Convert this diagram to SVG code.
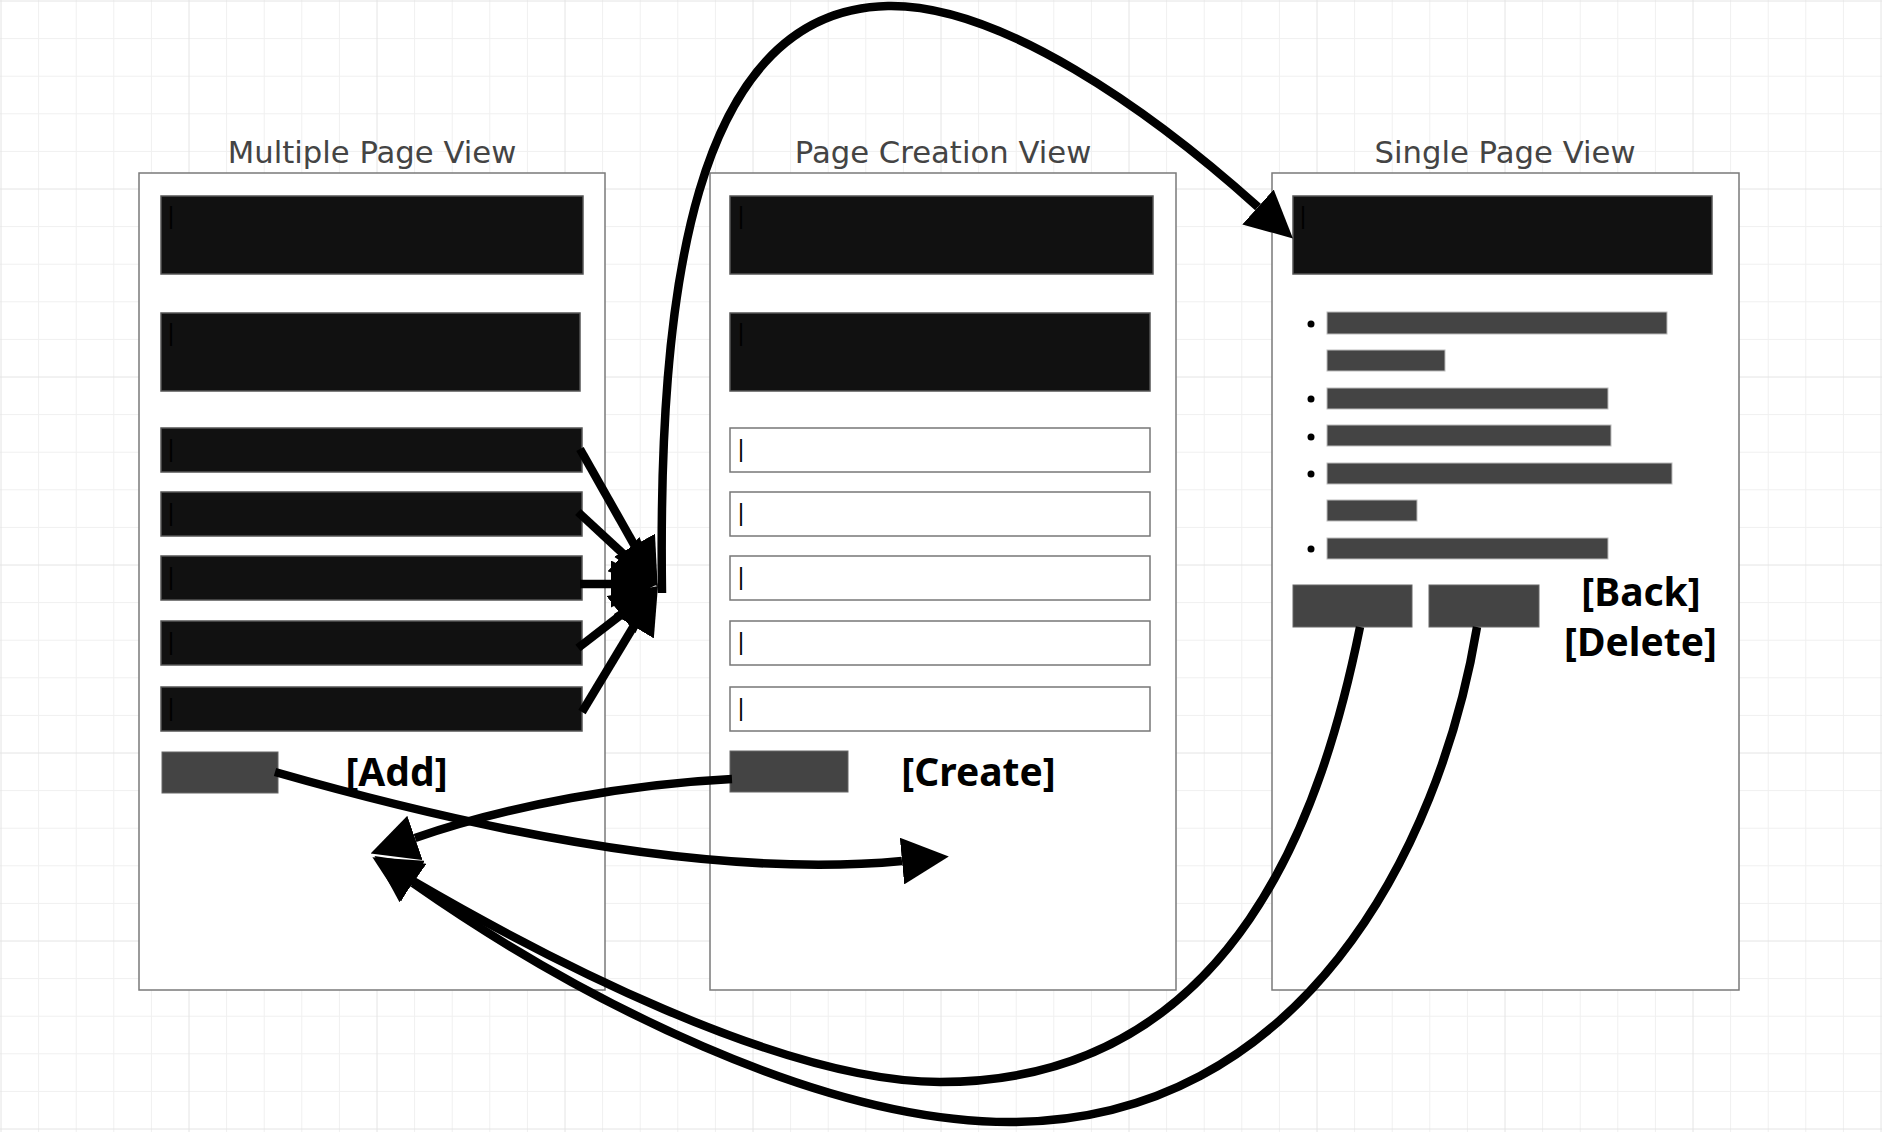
<svg xmlns="http://www.w3.org/2000/svg" width="1882" height="1132" viewBox="0 0 1882 1132">
<style>
.minor{stroke:#f0f0f0;stroke-width:1;fill:none}
.major{stroke:#e4e4e4;stroke-width:1;fill:none}
.frame{fill:#fff;stroke:#7a7a7a;stroke-width:1.5}
.dark{fill:#111;stroke:#555;stroke-width:1.5}
.input{fill:#fff;stroke:#777;stroke-width:1.5}
.btn{fill:#444;stroke:#666;stroke-width:1}
.bar{fill:#444;stroke:#bbb;stroke-width:1}
.title{font-family:"DejaVu Sans","Liberation Sans",sans-serif;font-size:30.7px;fill:#444;text-anchor:middle}
.cur{font-family:"Liberation Sans",Arial,sans-serif;font-size:23px;fill:#000}
.lbl{font-family:"Noto Sans","Open Sans",sans-serif;font-weight:700;font-size:39px;fill:#000;text-anchor:middle}
.edge{fill:none;stroke:#000;stroke-width:8.5;marker-end:url(#ah)}
</style>
<defs>
<marker id="ah" viewBox="0 0 47 47" markerWidth="47" markerHeight="47" refX="0" refY="23.5" orient="auto" markerUnits="userSpaceOnUse">
<path d="M0,0 L47,23.5 L0,47 z" fill="#000"/>
</marker>
</defs>
<rect x="0" y="0" width="1882" height="1132" fill="#fff"/>
<g id="grid">
<path class="minor" d="M38.6,0V1132M76.2,0V1132M113.8,0V1132M151.4,0V1132M226.6,0V1132M264.2,0V1132M301.8,0V1132M339.4,0V1132M414.6,0V1132M452.2,0V1132M489.8,0V1132M527.4,0V1132M602.6,0V1132M640.2,0V1132M677.8,0V1132M715.4,0V1132M790.6,0V1132M828.2,0V1132M865.8,0V1132M903.4,0V1132M978.6,0V1132M1016.2,0V1132M1053.8,0V1132M1091.4,0V1132M1166.6,0V1132M1204.2,0V1132M1241.8,0V1132M1279.4,0V1132M1354.6,0V1132M1392.2,0V1132M1429.8,0V1132M1467.4,0V1132M1542.6,0V1132M1580.2,0V1132M1617.8,0V1132M1655.4,0V1132M1730.6,0V1132M1768.2,0V1132M1805.8,0V1132M1843.4,0V1132M0,38.6H1882M0,76.2H1882M0,113.8H1882M0,151.4H1882M0,226.6H1882M0,264.2H1882M0,301.8H1882M0,339.4H1882M0,414.6H1882M0,452.2H1882M0,489.8H1882M0,527.4H1882M0,602.6H1882M0,640.2H1882M0,677.8H1882M0,715.4H1882M0,790.6H1882M0,828.2H1882M0,865.8H1882M0,903.4H1882M0,978.6H1882M0,1016.2H1882M0,1053.8H1882M0,1091.4H1882"/>
<path class="major" d="M1,0V1132M189,0V1132M377,0V1132M565,0V1132M753,0V1132M941,0V1132M1129,0V1132M1317,0V1132M1505,0V1132M1693,0V1132M1881,0V1132M0,1H1882M0,189H1882M0,377H1882M0,565H1882M0,753H1882M0,941H1882M0,1129H1882"/>
</g>
<g id="multiple-page-view">
<text class="title" x="372" y="163">Multiple Page View</text>
<rect class="frame" x="139" y="173" width="466" height="817"/>
<rect class="dark" x="161" y="196" width="422" height="78"/><text class="cur" x="168" y="224">|</text>
<rect class="dark" x="161" y="313" width="419" height="78"/><text class="cur" x="168" y="341">|</text>
<rect class="dark" x="161" y="428" width="421" height="44"/><text class="cur" x="168" y="457">|</text>
<rect class="dark" x="161" y="492" width="421" height="44"/><text class="cur" x="168" y="521">|</text>
<rect class="dark" x="161" y="556" width="421" height="44"/><text class="cur" x="168" y="585">|</text>
<rect class="dark" x="161" y="621" width="421" height="44"/><text class="cur" x="168" y="650">|</text>
<rect class="dark" x="161" y="687" width="421" height="44"/><text class="cur" x="168" y="716">|</text>
<rect class="btn" x="162" y="752" width="116" height="41"/>
<text class="lbl" x="396.5" y="786">[Add]</text>
</g>
<g id="page-creation-view">
<text class="title" x="943" y="163">Page Creation View</text>
<rect class="frame" x="710" y="173" width="466" height="817"/>
<rect class="dark" x="730" y="196" width="423" height="78"/><text class="cur" x="738" y="224">|</text>
<rect class="dark" x="730" y="313" width="420" height="78"/><text class="cur" x="738" y="341">|</text>
<rect class="input" x="730" y="428" width="420" height="44"/><text class="cur" x="738" y="457">|</text>
<rect class="input" x="730" y="492" width="420" height="44"/><text class="cur" x="738" y="521">|</text>
<rect class="input" x="730" y="556" width="420" height="44"/><text class="cur" x="738" y="585">|</text>
<rect class="input" x="730" y="621" width="420" height="44"/><text class="cur" x="738" y="650">|</text>
<rect class="input" x="730" y="687" width="420" height="44"/><text class="cur" x="738" y="716">|</text>
<rect class="btn" x="730" y="751" width="118" height="41"/>
<text class="lbl" x="978.5" y="786">[Create]</text>
</g>
<g id="single-page-view">
<text class="title" x="1505" y="163">Single Page View</text>
<rect class="frame" x="1272" y="173" width="467" height="817"/>
<rect class="dark" x="1293" y="196" width="419" height="78"/><text class="cur" x="1300" y="224">|</text>
<circle cx="1311" cy="324" r="3.5"/>
<rect class="bar" x="1327" y="312" width="340" height="22"/>
<rect class="bar" x="1327" y="350" width="118" height="21"/>
<circle cx="1311" cy="399" r="3.5"/>
<rect class="bar" x="1327" y="388" width="281" height="21"/>
<circle cx="1311" cy="437" r="3.5"/>
<rect class="bar" x="1327" y="425" width="284" height="21"/>
<circle cx="1311" cy="474" r="3.5"/>
<rect class="bar" x="1327" y="463" width="345" height="21"/>
<rect class="bar" x="1327" y="500" width="90" height="21"/>
<circle cx="1311" cy="549" r="3.5"/>
<rect class="bar" x="1327" y="538" width="281" height="21"/>
<rect class="btn" x="1293" y="585" width="119" height="42"/>
<rect class="btn" x="1429" y="585" width="110" height="42"/>
<text class="lbl" x="1641" y="606">[Back]</text>
<text class="lbl" x="1640.5" y="656">[Delete]</text>
</g>
<g id="connectors">
<path class="edge" d="M580,449 L634.5,545.3"/>
<path class="edge" d="M578,512 L623.5,554.1"/>
<path class="edge" d="M580,584 L611,584"/>
<path class="edge" d="M578,648 L620.9,614.8"/>
<path class="edge" d="M582,712 L633.7,626.3"/>
<path class="edge" d="M662,593 C658,300 690,10 888,6 C1000,4 1150,110 1258,207"/>
<path class="edge" d="M275,772 C450,822 700,880 902,861"/>
<path class="edge" d="M732,779 C630,784 510,805 415,838"/>
<path class="edge" d="M1360,627 C1325,800 1240,1082 940,1082 C780,1082 540,955 413,881"/>
<path class="edge" d="M1477,627 C1440,850 1300,1122 1010,1122 C820,1122 580,1000 413,883"/>
</g>
</svg>
